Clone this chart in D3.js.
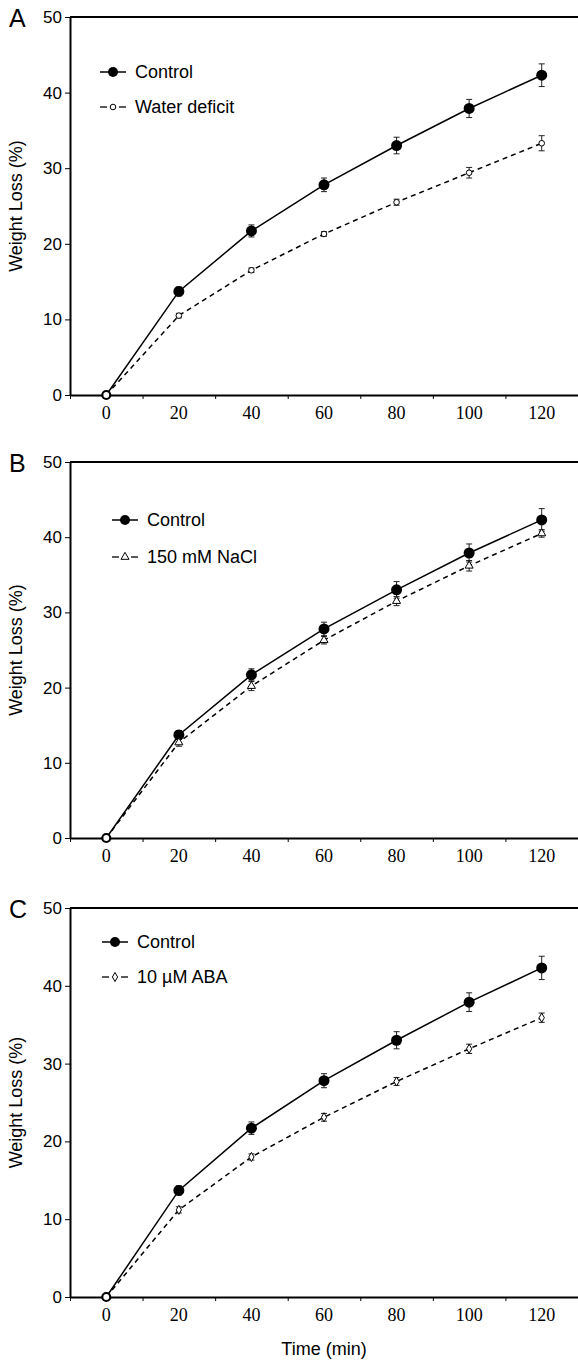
<!DOCTYPE html>
<html>
<head>
<meta charset="utf-8">
<script src="https://cdn.jsdelivr.net/npm/d3@7"></script>
<style>
  body { margin: 0; background: #fff; }
  svg { display: block; }
  .sans { font-family: "Liberation Sans", Arial, sans-serif; }
  .serif { font-family: "Liberation Serif", "Times New Roman", serif; }
</style>
</head>
<body>
<div class="chart"></div>
<script>
const w = 578;
const h = 1363;

const times = [0, 20, 40, 60, 80, 100, 120];
const control = [0, 13.7, 21.7, 27.8, 33.0, 37.9, 42.3];
const controlErr = [0, 0.6, 0.8, 0.9, 1.1, 1.2, 1.5];
const waterDeficit = [0, 10.5, 16.5, 21.3, 25.5, 29.4, 33.3];
const waterDeficitErr = [0, 0.3, 0.3, 0.3, 0.4, 0.7, 1.0];
const nacl = [0, 12.7, 20.2, 26.3, 31.5, 36.2, 40.5];
const naclErr = [0, 0.5, 0.6, 0.5, 0.6, 0.7, 0.5];
const aba = [0, 11.2, 18.0, 23.1, 27.7, 31.9, 35.9];
const abaErr = [0, 0.4, 0.4, 0.5, 0.5, 0.6, 0.6];

const yTicks = [0, 10, 20, 30, 40, 50];
const xLabels = [0, 20, 40, 60, 80, 100, 120];
const xTicks = [-10, 10, 30, 50, 70, 90, 110];

// layout: top / bottom pixel of each panel, legend [x, row1 offset, row2 offset]
const panels = [
  { letter: "A", name: "Water deficit", vals: waterDeficit, err: waterDeficitErr, shape: "circle", top: 17, bottom: 395, leg: [100, 55, 90] },
  { letter: "B", name: "150 mM NaCl", vals: nacl, err: naclErr, shape: "triangle", top: 462, bottom: 838, leg: [112, 58, 95] },
  { letter: "C", name: "10 \u00b5M ABA", vals: aba, err: abaErr, shape: "diamond", top: 908, bottom: 1297, leg: [102, 34, 69] }
];

const left = 70, right = 578;

const svg = d3.select(".chart").append("svg").attr("width", w).attr("height", h);

const x = d3.scaleLinear().domain([-10, 130]).range([left, right]);

function openMarker(sel, shape) {
  if (shape === "circle") {
    sel.append("circle").attr("r", 2.8);
  } else {
    const type = shape === "triangle" ? d3.symbolTriangle : d3.symbolDiamond;
    sel.append("path").attr("d", d3.symbol().type(type).size(shape === "triangle" ? 28 : 24)());
  }
  sel.selectAll("circle,path").attr("fill", "#fff").attr("stroke", "#000").attr("stroke-width", 1);
}

panels.forEach(p => {
  const top = p.top, bottom = p.bottom;
  const y = d3.scaleLinear().domain([0, 50]).range([bottom, top]);
  const g = svg.append("g");

  // top frame line
  g.append("line")
    .attr("x1", left).attr("x2", right)
    .attr("y1", top).attr("y2", top)
    .attr("stroke", "#000").attr("stroke-width", 2);

  // y axis
  const yAxis = g.append("g")
    .attr("transform", "translate(" + left + ",0)")
    .call(d3.axisLeft(y).tickValues(yTicks).tickSize(5).tickPadding(3).tickSizeOuter(0));
  yAxis.select(".domain").attr("stroke-width", 2);
  yAxis.selectAll("text").attr("class", "sans").attr("font-size", 17).attr("fill", "#000");

  // x axis: ticks sit between the labels
  const xAxis = g.append("g")
    .attr("transform", "translate(0," + bottom + ")")
    .call(d3.axisBottom(x).tickValues(xTicks).tickSize(4).tickFormat("").tickSizeOuter(0));
  xAxis.select(".domain").attr("stroke-width", 2);

  g.selectAll(".xlab")
    .data(xLabels)
    .enter().append("text")
    .attr("class", "serif")
    .attr("x", d => x(d))
    .attr("y", bottom + 24)
    .attr("text-anchor", "middle")
    .attr("font-size", 18)
    .text(d => d);

  // panel letter
  g.append("text").attr("class", "sans")
    .attr("x", 9).attr("y", top + 10)
    .attr("font-size", 25).text(p.letter);

  // y title
  g.append("text").attr("class", "sans")
    .attr("transform", "translate(22," + ((top + bottom) / 2) + ") rotate(-90)")
    .attr("text-anchor", "middle")
    .attr("font-size", 18)
    .text("Weight Loss (%)");

  const series = [
    { vals: control, err: controlErr, dash: null },
    { vals: p.vals, err: p.err, dash: "5,4" }
  ];

  // error bars
  series.forEach(s => {
    const eb = g.append("g").attr("stroke", "#222").attr("stroke-width", 1);
    times.forEach((t, i) => {
      if (!s.err[i]) return;
      const cx = x(t), y1 = y(s.vals[i] - s.err[i]), y2 = y(s.vals[i] + s.err[i]);
      eb.append("line").attr("x1", cx).attr("x2", cx).attr("y1", y1).attr("y2", y2);
      eb.append("line").attr("x1", cx - 3).attr("x2", cx + 3).attr("y1", y1).attr("y2", y1);
      eb.append("line").attr("x1", cx - 3).attr("x2", cx + 3).attr("y1", y2).attr("y2", y2);
    });
  });

  // lines
  const line = d3.line().x((d, i) => x(times[i])).y(d => y(d));
  series.forEach(s => {
    g.append("path")
      .datum(s.vals)
      .attr("d", line)
      .attr("fill", "none")
      .attr("stroke", "#000")
      .attr("stroke-width", 1.5)
      .attr("stroke-dasharray", s.dash);
  });

  // markers
  g.selectAll(".ctrl")
    .data(control.slice(1))
    .enter().append("circle")
    .attr("cx", (d, i) => x(times[i + 1]))
    .attr("cy", d => y(d))
    .attr("r", 5.5)
    .attr("fill", "#000");

  p.vals.slice(1).forEach((v, i) => {
    const m = g.append("g").attr("transform", "translate(" + x(times[i + 1]) + "," + y(v) + ")");
    openMarker(m, p.shape);
  });

  // shared start point
  g.append("circle")
    .attr("cx", x(times[0])).attr("cy", y(control[0]))
    .attr("r", 4).attr("fill", "#fff")
    .attr("stroke", "#000").attr("stroke-width", 2.2);

  // legend
  const lx = p.leg[0];
  const ly1 = top + p.leg[1], ly2 = top + p.leg[2];
  g.append("line").attr("x1", lx).attr("x2", lx + 26).attr("y1", ly1).attr("y2", ly1)
    .attr("stroke", "#000").attr("stroke-width", 1.5);
  g.append("circle").attr("cx", lx + 13).attr("cy", ly1).attr("r", 5).attr("fill", "#000");
  g.append("text").attr("class", "sans").attr("x", lx + 35).attr("y", ly1 + 6)
    .attr("font-size", 18).text("Control");

  g.append("line").attr("x1", lx).attr("x2", lx + 7).attr("y1", ly2).attr("y2", ly2)
    .attr("stroke", "#000").attr("stroke-width", 1.3);
  g.append("line").attr("x1", lx + 19).attr("x2", lx + 26).attr("y1", ly2).attr("y2", ly2)
    .attr("stroke", "#000").attr("stroke-width", 1.3);
  openMarker(g.append("g").attr("transform", "translate(" + (lx + 13) + "," + ly2 + ")"), p.shape);
  g.append("text").attr("class", "sans").attr("x", lx + 35).attr("y", ly2 + 6)
    .attr("font-size", 18).text(p.name);
});

svg.append("text").attr("class", "sans")
  .attr("x", (left + right) / 2).attr("y", 1355)
  .attr("text-anchor", "middle")
  .attr("font-size", 18)
  .text("Time (min)");
</script>
</body>
</html>
